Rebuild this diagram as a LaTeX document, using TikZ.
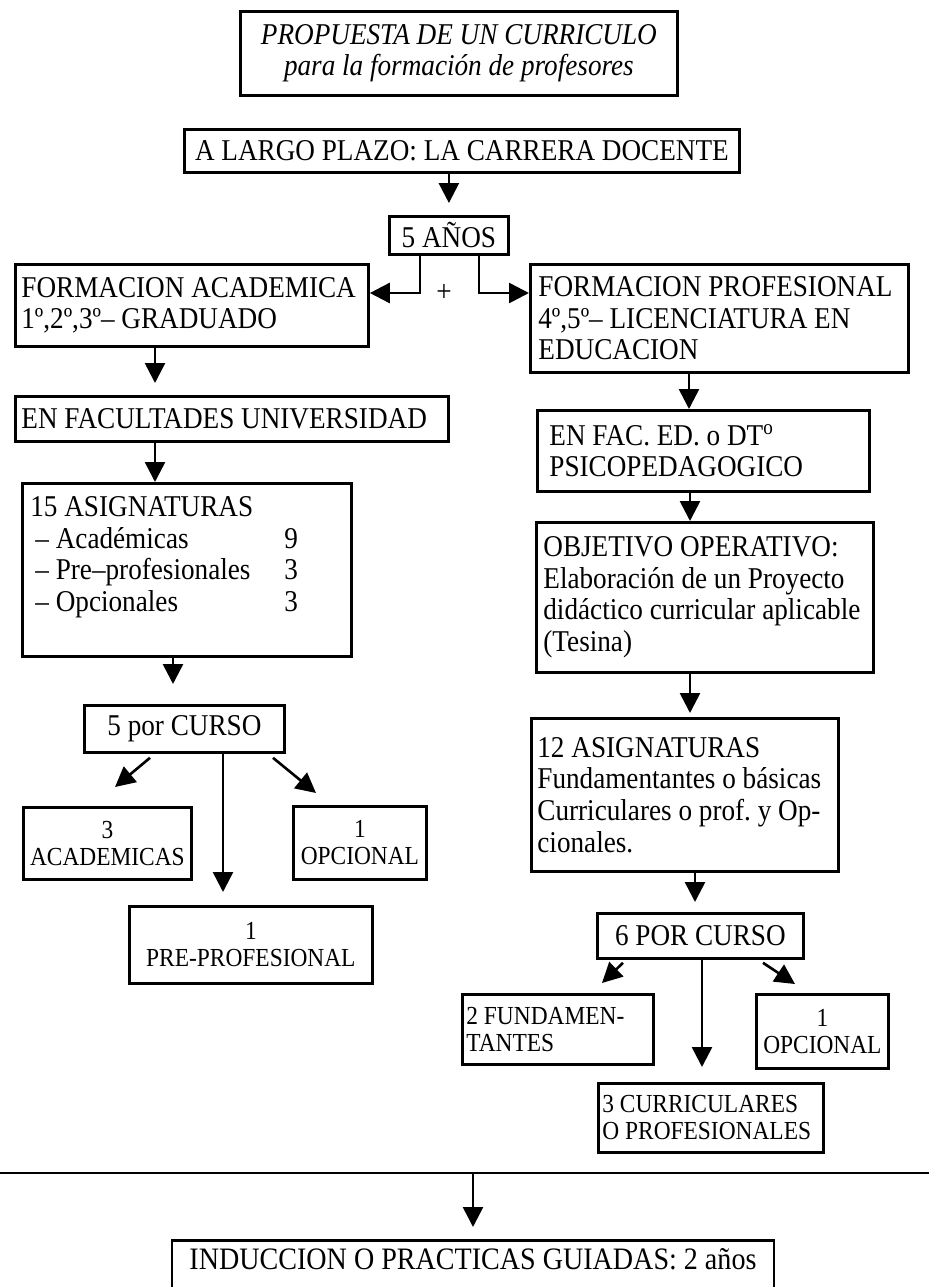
\documentclass[tikz,border=0pt]{standalone}
\usepackage{fontspec}
\setmainfont[FakeStretch=0.9]{Liberation Serif}
\usetikzlibrary{arrows.meta,calc}

\newcommand{\textoGrande}{\fontsize{15.1}{15.8}\selectfont\frenchspacing}
\newcommand{\textoChico}{\fontsize{13}{13.5}\selectfont\frenchspacing}

\begin{document}
\begin{tikzpicture}[x=0.5pt, y=-0.5pt, line width=1.4pt,
    caja/.style={draw, anchor=north west, inner xsep=4pt, inner ysep=2pt, font=\textoGrande},
    cajaizq/.style={caja, align=flush left, inner xsep=3pt},
    cajachica/.style={caja, align=center, inner xsep=2pt, font=\textoChico},
    flecha/.style={-{Triangle[length=10pt,width=10pt]}, line width=1.3pt}]
  \useasboundingbox (0,0) rectangle (929,1287);
  \clip (0,0) rectangle (929,1287);
  % Titulo
  \node[caja, align=center, minimum width=218.5pt, minimum height=42pt, font=\textoGrande\itshape] (titulo) at (239,10)
    {PROPUESTA DE UN CURRICULO\\para la formación de profesores};
  \node[caja, minimum width=277.5pt, minimum height=21.5pt] (plazo) at (183,128) {A LARGO PLAZO: LA CARRERA DOCENTE};
  \node[caja, minimum width=59.5pt, minimum height=19pt] (anio) at (388,215) {5 AÑOS};
  \node[font=\textoGrande] (mas) at (444,293) {+};
  % Rama academica
  \node[cajaizq, text width=170.5pt, minimum height=41pt] (acad) at (14,263) {FORMACION ACADEMICA\\1º,2º,3º– GRADUADO};
  \node[cajaizq, text width=210.5pt, minimum height=22.5pt] (fac) at (14,395) {EN FACULTADES UNIVERSIDAD};
  \node[cajaizq, inner xsep=4pt, text width=156.5pt, minimum height=86.5pt] (asig15) at (21,482)
    {15 ASIGNATURAS\\
     \makebox[127pt][l]{\,– Académicas}9\\
     \makebox[127pt][l]{\,– Pre–profesionales}3\\
     \makebox[127pt][l]{\,– Opcionales}3\\ ~};
  \node[caja, minimum width=100pt, minimum height=23.5pt] (curso5) at (83,704) {5 por CURSO};
  \node[cajachica, minimum width=84pt, minimum height=36pt] (acad3) at (22,806) {3\\ACADEMICAS};
  \node[cajachica, minimum width=66.5pt, minimum height=36.5pt] (opc1) at (292,805) {1\\OPCIONAL};
  \node[cajachica, minimum width=121.5pt, minimum height=38.5pt] (prepro) at (128,905) {1\\PRE-PROFESIONAL};
  % Rama profesional
  \node[cajaizq, inner xsep=4pt, text width=181pt, minimum height=54pt] (prof) at (529,263)
    {FORMACION PROFESIONAL\\4º,5º– LICENCIATURA EN\\EDUCACION};
  \node[cajaizq, inner xsep=6pt, text width=154pt, minimum height=40.5pt] (facEd) at (536,409)
    {EN FAC. ED. o DT\textsuperscript{o}\\PSICOPEDAGOGICO};
  \node[cajaizq, inner xsep=3.5pt, text width=161.5pt, minimum height=75pt] (objetivo) at (535,521)
    {OBJETIVO OPERATIVO:\\Elaboración de un Proyecto\\didáctico curricular aplicable\\(Tesina)};
  \node[cajaizq, inner xsep=3pt, text width=147.5pt, minimum height=76.5pt] (asig12) at (530,717)
    {12 ASIGNATURAS\\Fundamentantes o básicas\\Curriculares o prof. y Op-\\cionales.};
  \node[caja, minimum width=103pt, minimum height=22.5pt] (curso6) at (596,912) {6 POR CURSO};
  \node[cajachica, align=flush left, text width=91.5pt, minimum height=35pt] (fund2) at (461,993) {2 FUNDAMEN-\\TANTES};
  \node[cajachica, minimum width=66pt, minimum height=37pt] (opc1r) at (755,993) {1\\OPCIONAL};
  \node[cajachica, align=flush left, text width=108.5pt, minimum height=34.5pt] (curr3) at (597,1082) {3 CURRICULARES\\O PROFESIONALES};
  % Induccion
  \draw (0,1173) -- (929,1173);
  \coordinate (corte) at (473,1173);
  \node[caja, anchor=north, minimum width=301pt, text height=11.5pt, text depth=26pt, inner ysep=3pt,
    font=\fontsize{15.6}{16}\selectfont] (ind) at (473,1239) {INDUCCION O PRACTICAS GUIADAS: 2 años};
  % Flechas
  \draw[flecha, shorten >=6pt] (plazo.south -| anio.north) -- (anio.north);
  \draw[flecha] ($(anio.south west)+(32,0)$) |- ($(acad.north east)+(0,30)$);
  \draw[flecha] ($(anio.south west)+(91,0)$) |- ($(prof.north west)+(0,30)$);
  \draw[flecha, shorten >=6pt] ($(acad.south west)+(141,0)$) -- ($(fac.north west)+(141,0)$);
  \draw[flecha] ($(fac.south west)+(141,0)$) -- ($(asig15.north west)+(134,0)$);
  \draw[flecha, shorten >=10pt] ($(asig15.south west)+(152,0)$) -- ($(curso5.north west)+(90,0)$);
  \draw[flecha] ($(curso5.south west)+(67,4)$) -- ($(acad3.north west)+(93,-19)$);
  \draw[flecha, shorten >=6.5pt] ($(curso5.south west)+(140,0)$) -- ($(prepro.north west)+(95,0)$);
  \draw[flecha] ($(curso5.south west)+(190,4)$) -- ($(opc1.north west)+(24,-12)$);
  \draw[flecha] ($(prof.south west)+(160,0)$) -- ($(facEd.north west)+(153,0)$);
  \draw[flecha] ($(facEd.south west)+(154,0)$) -- ($(objetivo.north west)+(155,0)$);
  \draw[flecha, shorten >=2pt] ($(objetivo.south west)+(155,0)$) -- ($(asig12.north west)+(160,0)$);
  \draw[flecha, shorten >=5pt] ($(asig12.south west)+(165,0)$) -- ($(curso6.north west)+(99,0)$);
  \draw[flecha] ($(curso6.south west)+(27,3)$) -- ($(fund2.north west)+(141,-10)$);
  \draw[flecha, shorten >=7.5pt] ($(curso6.south west)+(106,0)$) -- ($(curr3.north west)+(105,0)$);
  \draw[flecha] ($(curso6.south west)+(167,3)$) -- ($(opc1r.north west)+(40,-9)$);
  \draw[flecha, shorten >=6pt] (corte) -- (ind.north);
\end{tikzpicture}
\end{document}
